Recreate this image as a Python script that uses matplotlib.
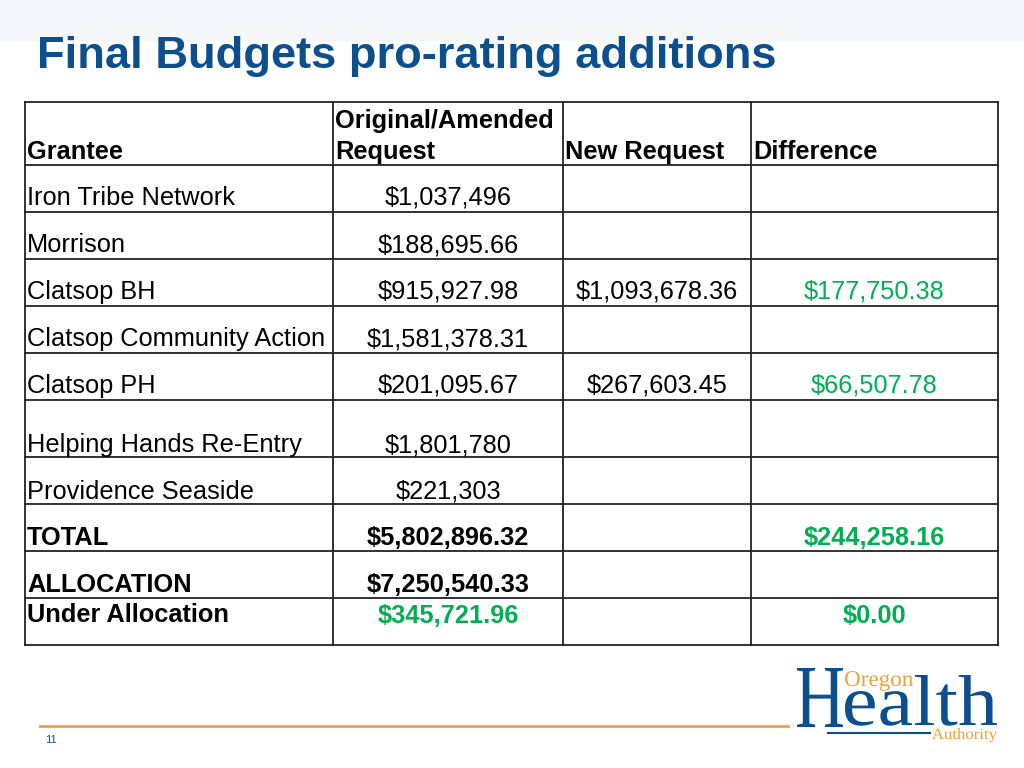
import matplotlib
matplotlib.use("Agg")
import matplotlib.pyplot as plt
import matplotlib.transforms as mtransforms
from matplotlib.textpath import TextPath
from matplotlib.font_manager import FontProperties
from matplotlib.patches import PathPatch

# table contents
grantees = ["Iron Tribe Network", "Morrison", "Clatsop BH", "Clatsop Community Action",
            "Clatsop PH", "Helping Hands Re-Entry", "Providence Seaside"]
original = ["$1,037,496", "$188,695.66", "$915,927.98", "$1,581,378.31",
            "$201,095.67", "$1,801,780", "$221,303"]
new_request = ["", "", "$1,093,678.36", "", "$267,603.45", "", ""]
difference = ["", "", "$177,750.38", "", "$66,507.78", "", ""]

total_label = "TOTAL"
total_original = "$5,802,896.32"
total_difference = "$244,258.16"
alloc_label = "ALLOCATION"
alloc_value = "$7,250,540.33"
under_label = "Under Allocation"
under_value = "$345,721.96"
under_difference = "$0.00"

BLUE = "#0B4F8F"
GREEN = "#00B050"
ORANGE = "#E8A33C"
SANS = ["Liberation Sans", "DejaVu Sans"]
SERIF = ["Liberation Serif", "DejaVu Serif"]

fig = plt.figure(figsize=(10.24, 7.68), dpi=100)
ax = fig.add_axes([0, 0, 1, 1])
ax.set_xlim(0, 1024)
ax.set_ylim(768, 0)
ax.axis("off")
fig.patch.set_facecolor("white")


def fit_text(s, x0, x1, base, height, color, family):
    # squeeze a text path into a box (used for the condensed logo lettering)
    tp = TextPath((0, 0), s, size=100, prop=FontProperties(family=family))
    ext = tp.get_extents()
    sx = (x1 - x0) / ext.width
    sy = height / ext.y1
    tr = mtransforms.Affine2D().translate(-ext.x0, 0).scale(sx, -sy).translate(x0, base)
    ax.add_patch(PathPatch(tr.transform_path(tp), facecolor=color, lw=0))


# top grey band
ax.axhspan(0, 40, color="#F4F6F7", zorder=0)

ax.text(37, 68, "Final Budgets pro-rating additions", fontsize=32.6, fontweight="bold",
        color=BLUE, family=SANS, va="baseline")

# grid
col_x = [25, 333, 563, 751, 998]
row_y = [102, 165, 212, 259, 306, 353, 400, 457, 504, 551, 598, 645]
for y in row_y:
    ax.plot([col_x[0], col_x[-1]], [y, y], color="#222222", lw=1.3)
for x in col_x:
    ax.plot([x, x], [row_y[0], row_y[-1]], color="#222222", lw=1.3)

fs = 18.3
# header
ax.text(27, 159, "Grantee", fontsize=fs, fontweight="bold", family=SANS, va="baseline")
ax.text(335, 128, "Original/Amended", fontsize=fs, fontweight="bold", family=SANS, va="baseline")
ax.text(335, 159, "Request", fontsize=fs, fontweight="bold", family=SANS, va="baseline")
ax.text(565, 159, "New Request", fontsize=fs, fontweight="bold", family=SANS, va="baseline")
ax.text(753, 159, "Difference", fontsize=fs, fontweight="bold", family=SANS, va="baseline")

c2 = (col_x[1] + col_x[2]) / 2
c3 = (col_x[2] + col_x[3]) / 2
c4 = (col_x[3] + col_x[4]) / 2

baselines = [205, 252, 299, 346, 393, 452, 499]
for i, name in enumerate(grantees):
    b = baselines[i]
    ax.text(27, b, name, fontsize=fs, family=SANS, va="baseline")
    ax.text(c2, b, original[i], fontsize=fs, family=SANS, va="baseline", ha="center")
    if new_request[i]:
        ax.text(c3, b, new_request[i], fontsize=fs, family=SANS, va="baseline", ha="center")
    if difference[i]:
        ax.text(c4, b, difference[i], fontsize=fs, family=SANS, va="baseline", ha="center",
                color=GREEN)

ax.text(27, 545, total_label, fontsize=fs, fontweight="bold", family=SANS, va="baseline")
ax.text(c2, 545, total_original, fontsize=fs, fontweight="bold", family=SANS, va="baseline", ha="center")
ax.text(c4, 545, total_difference, fontsize=fs, fontweight="bold", family=SANS, va="baseline",
        ha="center", color=GREEN)
ax.text(27, 592, alloc_label, fontsize=fs, fontweight="bold", family=SANS, va="baseline")
ax.text(c2, 592, alloc_value, fontsize=fs, fontweight="bold", family=SANS, va="baseline", ha="center")
ax.text(27, 622, under_label, fontsize=fs, fontweight="bold", family=SANS, va="baseline")
ax.text(c2, 623, under_value, fontsize=fs, fontweight="bold", family=SANS, va="baseline",
        ha="center", color=GREEN)
ax.text(c4, 623, under_difference, fontsize=fs, fontweight="bold", family=SANS, va="baseline",
        ha="center", color=GREEN)

# footer
ax.plot([40, 788], [726, 726], color=ORANGE, lw=2)
ax.text(45, 743, "11", fontsize=8, color=BLUE, family=SANS, va="baseline")

# logo
fit_text("H", 797, 843, 727, 59, BLUE, SERIF)
fit_text("ealth", 845, 997, 725, 50, BLUE, SERIF)
fit_text("Oregon", 845, 913, 686, 15, ORANGE, SERIF)
fit_text("Authority", 932, 997, 739, 11, ORANGE, SERIF)
ax.plot([828, 930], [733, 733], color=BLUE, lw=1.5)

fig.savefig("out.png", dpi=100, facecolor="white")
